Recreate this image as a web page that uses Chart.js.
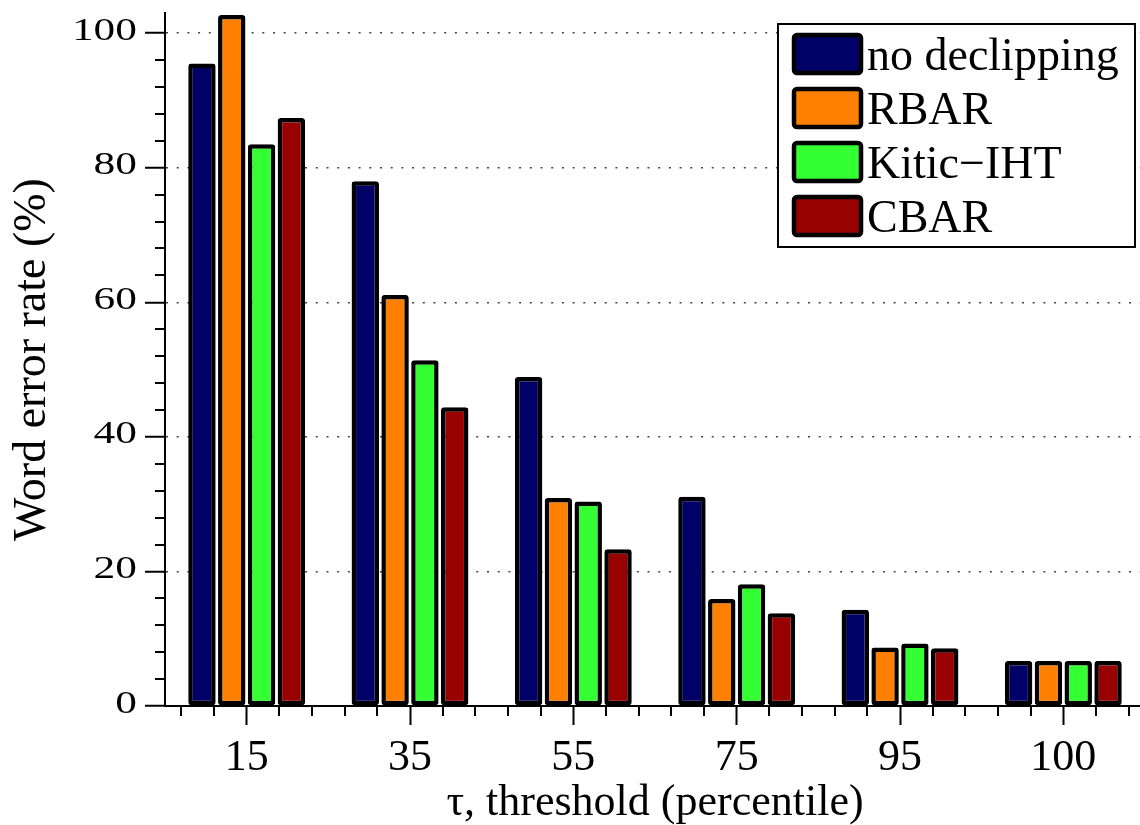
<!DOCTYPE html>
<html>
<head>
<meta charset="utf-8">
<title>Word error rate vs. clipping threshold</title>
<script src="https://cdn.jsdelivr.net/npm/chart.js@4/dist/chart.umd.min.js"></script>
<style>
  html, body { margin: 0; padding: 0; background: #ffffff; overflow: hidden; }
  #wrap { width: 1145px; height: 825px; }
  canvas { display: block; }
</style>
</head>
<body>
<div id="wrap"><canvas id="wer" width="1145" height="825"></canvas></div>
<script>
// Threshold percentiles (x categories)
const thresholds = ['15', '35', '55', '75', '95', '100'];

// Word error rate (%) per method
const noDeclipping = [95.5, 78.0, 48.9, 31.1, 14.3, 6.7];
const rbar         = [102.7, 61.1, 30.9, 15.9, 8.7, 6.7];
const kiticIHT     = [83.5, 51.4, 30.4, 18.1, 9.3, 6.7];
const cbar         = [87.4, 44.4, 23.3, 13.8, 8.6, 6.7];

// Labelled ticks on the y axis
const yTicks = [0, 20, 40, 60, 80, 100];

const SERIF = '"Liberation Serif", serif';

function barSet(label, data, color) {
  return {
    label: label,
    data: data,
    backgroundColor: color,
    borderColor: '#000000',
    borderWidth: 4.5,
    borderRadius: 3,
    borderSkipped: false,
    barPercentage: 0.92,
    categoryPercentage: 0.73
  };
}

// Minor ticks, stretched y tick labels and the framed legend
const decorations = {
  id: 'decorations',
  afterDraw(chart) {
    const ctx = chart.ctx;
    const x = chart.scales.x;
    const y = chart.scales.y;
    const area = chart.chartArea;

    ctx.save();
    ctx.strokeStyle = '#000000';
    ctx.lineWidth = 2;

    // y minor ticks every 4 units
    ctx.beginPath();
    for (let v = 4; v <= y.max; v += 4) {
      if (v % 20 === 0) continue;
      const py = Math.round(y.getPixelForValue(v));
      ctx.moveTo(area.left - 10, py);
      ctx.lineTo(area.left, py);
    }
    // x minor ticks, five per category step
    const step = (x.getPixelForValue(1) - x.getPixelForValue(0)) / 5;
    for (let i = 0; i < thresholds.length; i++) {
      const c = x.getPixelForValue(i);
      for (const k of [-2, -1, 1, 2]) {
        const px = Math.round(c + k * step);
        if (px < area.left || px > area.right) continue;
        ctx.moveTo(px, area.bottom);
        ctx.lineTo(px, area.bottom + 10);
      }
    }
    ctx.stroke();

    // y tick labels (wide face)
    ctx.fillStyle = '#000000';
    ctx.font = '31px ' + SERIF;
    ctx.textAlign = 'right';
    ctx.textBaseline = 'alphabetic';
    y.ticks.forEach(t => {
      const py = y.getPixelForValue(t.value);
      ctx.save();
      ctx.translate(137, py + 6.5);
      ctx.scale(1.4, 1);
      ctx.fillText(String(t.value), 0, 0);
      ctx.restore();
    });

    // legend
    const lx = 778, ly = 24, lw = 357, lh = 223;
    ctx.fillStyle = '#ffffff';
    ctx.fillRect(lx, ly, lw, lh);
    ctx.lineWidth = 2;
    ctx.strokeStyle = '#000000';
    ctx.strokeRect(lx, ly, lw, lh);

    ctx.font = '46px ' + SERIF;
    ctx.textAlign = 'left';
    chart.data.datasets.forEach((ds, i) => {
      const sx = 792, sy = 33 + i * 54, sw = 71, sh = 42;
      ctx.beginPath();
      ctx.roundRect(sx + 2, sy + 2, sw - 4, sh - 4, 3);
      ctx.fillStyle = ds.backgroundColor;
      ctx.fill();
      ctx.lineWidth = 4.5;
      ctx.strokeStyle = '#000000';
      ctx.stroke();
      ctx.fillStyle = '#000000';
      ctx.fillText(ds.label, 867, sy + sh / 2 + 16);
    });
    ctx.restore();
  }
};

function build() {
  new Chart(document.getElementById('wer'), {
    type: 'bar',
    data: {
      labels: thresholds,
      datasets: [
        barSet('no declipping', noDeclipping, '#000066'),
        barSet('RBAR', rbar, '#ff8000'),
        barSet('Kitic\u2212IHT', kiticIHT, '#33ff33'),
        barSet('CBAR', cbar, '#990000')
      ]
    },
    options: {
      responsive: false,
      animation: false,
      devicePixelRatio: 1,
      layout: { padding: { top: 13, right: 0, bottom: 0, left: 0 } },
      plugins: {
        legend: { display: false },
        tooltip: { enabled: false }
      },
      scales: {
        x: {
          offset: true,
          grid: {
            display: true,
            drawOnChartArea: false,
            offset: false,
            color: '#000000',
            tickLength: 19,
            tickWidth: 2
          },
          border: { display: true, color: '#000000', width: 2 },
          ticks: {
            color: '#000000',
            font: { family: SERIF, size: 44, lineHeight: 1 },
            padding: 11,
            maxRotation: 0
          },
          title: {
            display: true,
            text: '\u03c4, threshold (percentile)',
            color: '#000000',
            font: { family: SERIF, size: 44, lineHeight: 1 },
            padding: { top: 0, bottom: 0 }
          },
          afterFit(scale) { scale.height = 119; }
        },
        y: {
          min: 0,
          max: 103,
          afterBuildTicks(scale) { scale.ticks = yTicks.map(v => ({ value: v })); },
          grid: {
            color: '#444444',
            lineWidth: 1.5,
            tickBorderDash: [],
            tickColor: '#000000',
            tickWidth: 2,
            tickLength: 20
          },
          border: { display: true, color: '#000000', width: 2, dash: [2, 8.7] },
          ticks: { display: false },
          title: {
            display: true,
            text: 'Word error rate (%)',
            color: '#000000',
            font: { family: SERIF, size: 46, lineHeight: 1 },
            padding: { top: 9.5, bottom: 0 }
          },
          afterFit(scale) { scale.width = 165; }
        }
      }
    },
    plugins: [decorations]
  });
}

const fontReady = document.fonts && document.fonts.load
  ? Promise.all([
      document.fonts.load('46px "Liberation Serif"', 'Word 0123456789'),
      document.fonts.load('31px "Liberation Serif"', '0123456789')
    ]).catch(() => null)
  : Promise.resolve();
fontReady.then(build, build);
</script>
</body>
</html>
